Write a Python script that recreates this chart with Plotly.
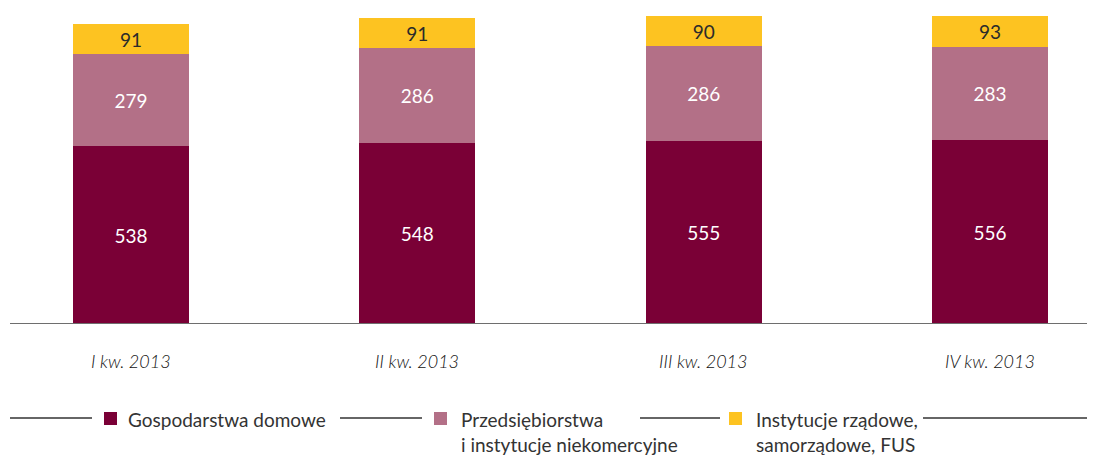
import plotly.graph_objects as go

categories = ["I kw. 2013", "II kw. 2013", "III kw. 2013", "IV kw. 2013"]
households = [538, 548, 555, 556]
enterprises = [279, 286, 286, 283]
government = [91, 91, 90, 93]
series_names = ["Gospodarstwa domowe",
                "Przedsiębiorstwa<br>i instytucje niekomercyjne",
                "Instytucje rządowe,<br>samorządowe, FUS"]
colors = ["#7a0036", "#b37087", "#fdc321"]
text_colors = ["#ffffff", "#ffffff", "#2b2b2b"]

FONT = "Lato"
xpos = list(range(len(categories)))

# page is rendered with an 8px body margin; figure is sized to fit the window
OFF = 8
W, H = 1095 - OFF, 455 - OFF
ML, MB = 2, 131
PW = W - ML
PH = H - MB  # 316

fig = go.Figure()
for vals, col, tcol in zip([households, enterprises, government], colors, text_colors):
    fig.add_trace(go.Bar(
        x=xpos, y=vals, width=0.405, marker=dict(color=col, line=dict(width=0)),
        text=[str(v) for v in vals], textposition="inside", insidetextanchor="middle",
        textfont=dict(family=FONT, size=19, color=tcol), showlegend=False,
        hoverinfo="skip"))

fig.update_layout(
    barmode="stack", width=W, height=H,
    margin=dict(l=ML, r=0, t=0, b=MB),
    paper_bgcolor="white", plot_bgcolor="white",
    xaxis=dict(range=[-0.4226, 3.3667], tickvals=xpos, showticklabels=False,
               showgrid=False, zeroline=False, showline=False, ticks=""),
    yaxis=dict(range=[0, 956.4], visible=False, showgrid=False, zeroline=False),
    font=dict(family=FONT),
)

# baseline axis line
fig.add_shape(type="line", xref="paper", yref="y", x0=0, x1=1, y0=0, y1=0,
              line=dict(color="#6e6e6e", width=2))

for i, c in enumerate(categories):
    fig.add_annotation(x=i, y=0, xref="x", yref="y", text=c,
                       showarrow=False, yanchor="middle", yshift=-37,
                       font=dict(family=FONT, size=18, color="#111111",
                                 style="italic", weight=300))

# custom legend, positions given in page pixels
def px(x):
    return (x - OFF - ML) / PW
def py(y):
    return (PH - (y - OFF)) / PH

legend_lines = [(10, 92), (340, 422), (640, 720), (923, 1095)]
for x0, x1 in legend_lines:
    fig.add_shape(type="line", xref="paper", yref="paper", x0=px(x0), x1=px(x1),
                  y0=py(418), y1=py(418), line=dict(color="#333333", width=1.5))

squares = [104, 434, 729]
texts_x = [126, 459, 754]
for sx, tx, name, col in zip(squares, texts_x, series_names, colors):
    fig.add_shape(type="rect", xref="paper", yref="paper", x0=px(sx), x1=px(sx + 13),
                  y0=py(425), y1=py(412), fillcolor=col, line=dict(width=0))
    fig.add_annotation(x=px(tx), y=py(406), xref="paper", yref="paper", text=name,
                       showarrow=False, xanchor="left", yanchor="top", align="left",
                       font=dict(family=FONT, size=19, color="#333333"))

fig.write_html("out.html")
